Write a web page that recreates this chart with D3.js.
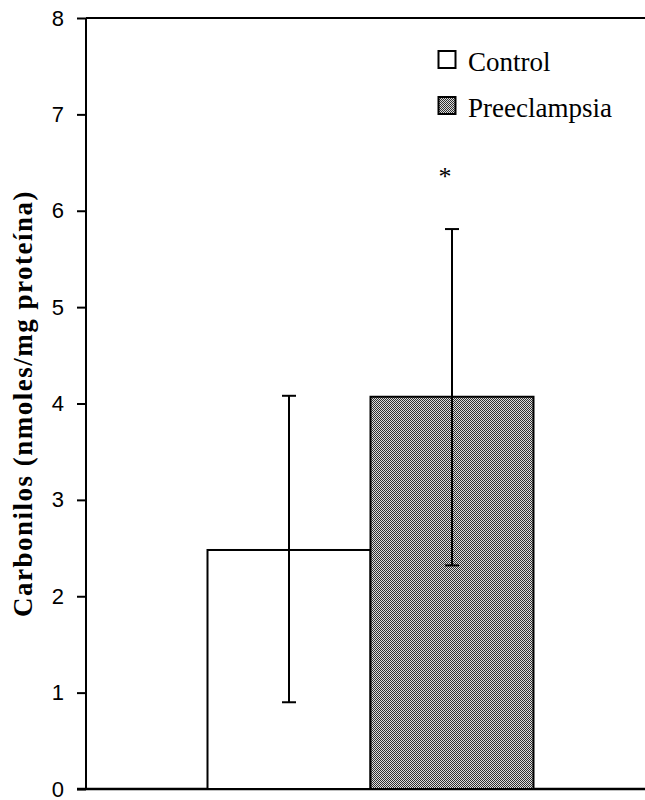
<!DOCTYPE html>
<html><head><meta charset="utf-8">
<script src="https://cdn.jsdelivr.net/npm/d3@7"></script>
<style>body{margin:0;background:#fff}</style>
</head><body>
<svg id="c" width="645" height="800"></svg>
<script>
const categories = ["Control", "Preeclampsia"];
const means = [2.48, 4.07];
const errLow = [0.90, 2.32];
const errHigh = [4.08, 5.81];
const yTicks = [0, 1, 2, 3, 4, 5, 6, 7, 8];
const yLabel = "Carbonilos (nmoles/mg proteína)";
const sigMark = "*";

const svg = d3.select("#c");
const defs = svg.append("defs");
const pat = defs.append("pattern").attr("id","hatch").attr("patternUnits","userSpaceOnUse")
  .attr("width",2).attr("height",2);
pat.append("rect").attr("width",2).attr("height",2).attr("fill","#dcdcdc");
pat.append("rect").attr("x",0).attr("y",0).attr("width",1).attr("height",1).attr("fill","#303030");
pat.append("rect").attr("x",1).attr("y",1).attr("width",1).attr("height",1).attr("fill","#303030");

const y = d3.scaleLinear().domain([0, 8]).range([789, 18]);
const x = d3.scaleBand().domain(categories).range([207.5, 533.5]).padding(0);
const axisX = 86;

// y axis
const ya = svg.append("g").attr("transform",`translate(${axisX},0)`)
  .call(d3.axisLeft(y).tickValues(yTicks).tickSize(9).tickPadding(13).tickFormat(d3.format("d")));
ya.select(".domain").attr("stroke","#000").attr("stroke-width",2).attr("d",`M0,${y(8)}V${y(0)}`);
ya.selectAll(".tick line").attr("stroke","#000").attr("stroke-width",2);
ya.selectAll(".tick text").attr("font-family","'Liberation Sans', Arial, sans-serif").attr("font-size",22).attr("fill","#000");

// top line & x axis
svg.append("line").attr("x1",axisX).attr("x2",645).attr("y1",y(8)).attr("y2",y(8)).attr("stroke","#000").attr("stroke-width",2);
svg.append("line").attr("x1",axisX-9).attr("x2",645).attr("y1",y(0)).attr("y2",y(0)).attr("stroke","#000").attr("stroke-width",2.5);

// bars
const fills = ["#fff","url(#hatch)"];
svg.selectAll("rect.bar").data(categories).join("rect").attr("class","bar")
  .attr("x",d=>x(d)).attr("width",x.bandwidth())
  .attr("y",(d,i)=>y(means[i])).attr("height",(d,i)=>y(0)-y(means[i]))
  .attr("fill",(d,i)=>fills[i]).attr("stroke","#000").attr("stroke-width",2);

// error bars
const cap = 7;
categories.forEach((c,i)=>{
  const cx = x(c) + x.bandwidth()/2;
  const g = svg.append("g").attr("stroke","#000").attr("stroke-width",2);
  g.append("line").attr("x1",cx).attr("x2",cx).attr("y1",y(errLow[i])).attr("y2",y(errHigh[i]));
  g.append("line").attr("x1",cx-cap).attr("x2",cx+cap).attr("y1",y(errLow[i])).attr("y2",y(errLow[i]));
  g.append("line").attr("x1",cx-cap).attr("x2",cx+cap).attr("y1",y(errHigh[i])).attr("y2",y(errHigh[i]));
});

// significance
svg.append("text").attr("x",x("Preeclampsia")+x.bandwidth()/2-7).attr("y",y(errHigh[1])-44)
  .attr("text-anchor","middle").attr("font-family","'Liberation Serif', serif").attr("font-size",26).text(sigMark);

// y label
svg.append("text").attr("transform",`translate(32,${(y(0)+y(8))/2}) rotate(-90)`)
  .attr("text-anchor","middle").attr("font-family","'Liberation Serif', serif").attr("font-weight","bold")
  .attr("font-size",27).attr("letter-spacing",1.5).text(yLabel);

// legend
const lg = svg.append("g");
categories.forEach((c,i)=>{
  const ly = 51 + i*46;
  lg.append("rect").attr("x",438.5).attr("y",ly).attr("width",17).attr("height",17)
    .attr("fill",fills[i]).attr("stroke","#000").attr("stroke-width",2);
  lg.append("text").attr("x",468).attr("y",ly+20).attr("font-family","'Liberation Serif', serif")
    .attr("font-size",27).attr("fill","#000").text(c);
});
</script>
</body></html>
